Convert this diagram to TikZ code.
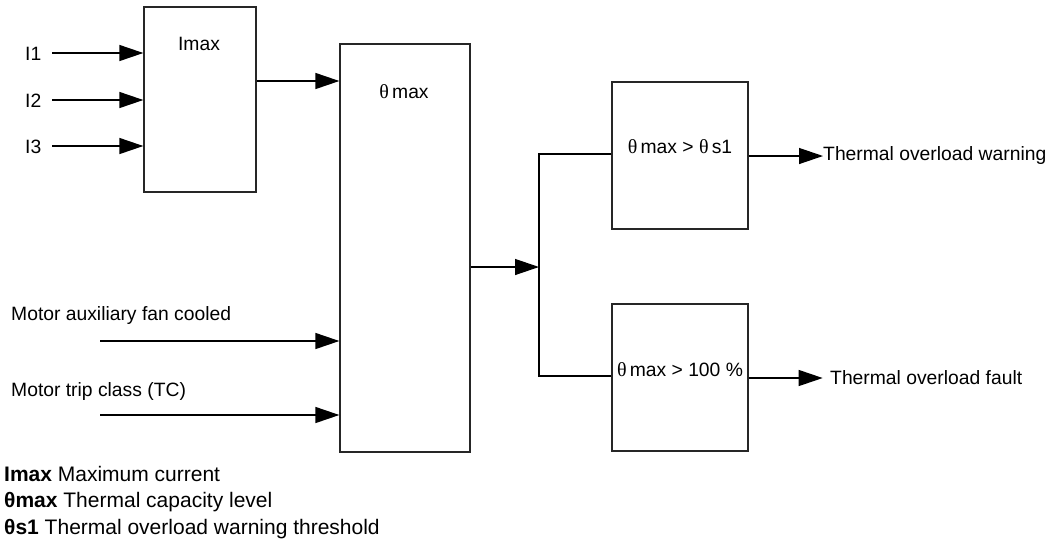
\documentclass[tikz,border=0pt]{standalone}
\usepackage{fontspec}
\setmainfont{Liberation Sans}
\newfontfamily\thetafont{Liberation Serif}
\usetikzlibrary{arrows.meta}
\tikzset{
  blk/.style={draw=black!85, line width=1.3pt, minimum width=#1, inner sep=0pt},
  lbl/.style={inner sep=0pt, font=\fontsize{19.3}{23}\selectfont},
  leg/.style={inner sep=0pt, font=\fontsize{21}{25}\selectfont},
  arr/.style={line width=1.3pt, -{Triangle[length=24pt,width=16pt]}},
  ln/.style={line width=1.3pt},
}
\newcommand{\thet}{{\thetafont\fontsize{20}{23}\selectfont θ}}
\begin{document}
\begin{tikzpicture}[x=1pt,y=-1pt]
\useasboundingbox (0,0) rectangle (1057,542);
% boxes
\node[blk=112pt, minimum height=185pt] (imax) at (200,99.5) {};
\node[blk=130pt, minimum height=408pt] (tmax) at (405,248) {};
\node[blk=136pt, minimum height=147pt] (s1) at (680,155.5) {};
\node[blk=136pt, minimum height=147pt] (flt) at (680,377.5) {};
% box texts
\node[lbl] (timax) at (199,44) {Imax};
\node[lbl] (ttmax) at (404,92) {\thet\,max};
\node[lbl] (ts1) at (680,147) {\thet\,max > \thet\,s1};
\node[lbl] (tflt) at (680,370) {\thet\,max > 100 \%};
% inputs
\node[lbl, anchor=west] (l1) at (25,54) {I1};
\node[lbl, anchor=west] (l2) at (25,101) {I2};
\node[lbl, anchor=west] (l3) at (25,147) {I3};
\coordinate (c1) at (52,53);
\coordinate (c2) at (52,100);
\coordinate (c3) at (52,146);
\draw[arr] (c1) -- (c1 -| imax.west);
\draw[arr] (c2) -- (c2 -| imax.west);
\draw[arr] (c3) -- (c3 -| imax.west);
% imax -> tmax
\coordinate (o1) at (256,81);
\draw[arr] (imax.east |- o1) -- (o1 -| tmax.west);
% motor inputs
\node[lbl, anchor=west] (lfan) at (11,316) {Motor auxiliary fan cooled};
\node[lbl, anchor=west] (ltc) at (11,391) {Motor trip class (TC)};
\coordinate (cfan) at (100,341);
\coordinate (ctc) at (100,415);
\draw[arr] (cfan) -- (cfan -| tmax.west);
\draw[arr] (ctc) -- (ctc -| tmax.west);
% tmax -> junction
\coordinate (j) at (539,267);
\draw[arr] (tmax.east |- j) -- (j);
\draw[ln] (s1.west |- 0,154) -| (j) |- (flt.west |- 0,376);
% outputs
\node[lbl, anchor=west] (warn) at (823,156) {Thermal overload warning};
\node[lbl, anchor=west] (fault) at (830,378) {Thermal overload fault};
\draw[arr] (s1.east |- warn.west) -- (warn.west);
\draw[arr] (flt.east |- fault.west) -- ++(74,0) coordinate (fe);
% legend
\node[leg, anchor=west] (g1) at (4,474) {\textbf{Imax} Maximum current};
\node[leg, anchor=west] (g2) at (4,502) {\textbf{θmax} Thermal capacity level};
\node[leg, anchor=west] (g3) at (4,529) {\textbf{θs1} Thermal overload warning threshold};
\end{tikzpicture}
\end{document}
